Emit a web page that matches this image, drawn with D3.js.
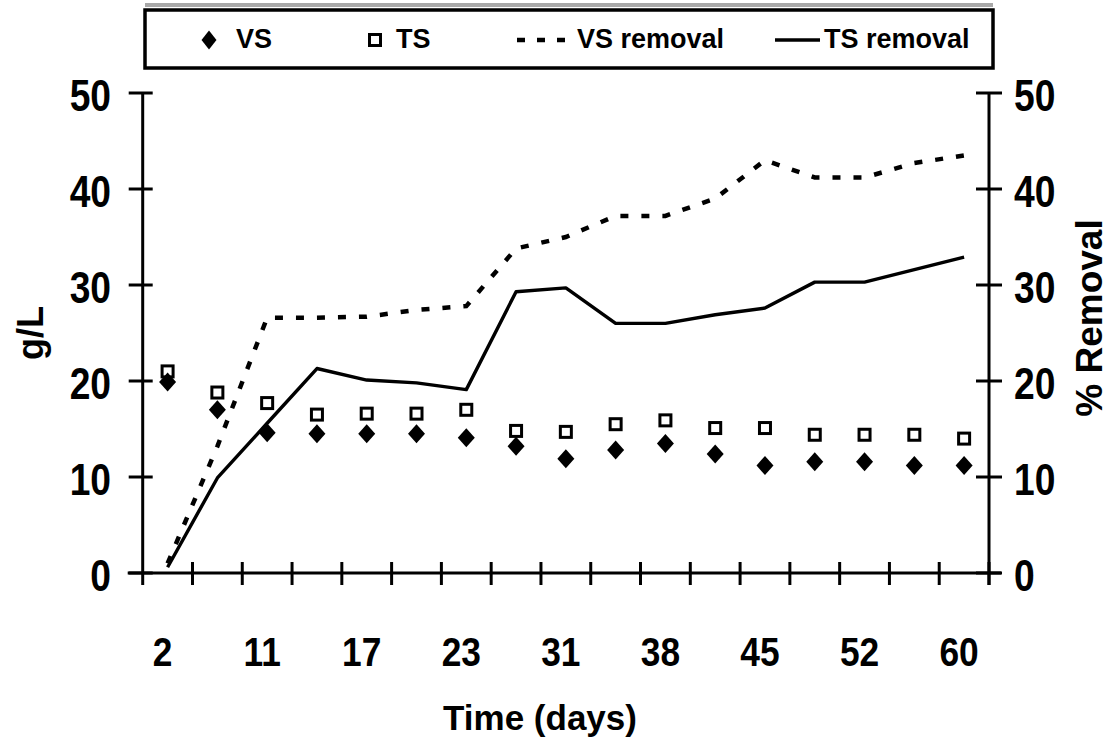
<!DOCTYPE html>
<html>
<head>
<meta charset="utf-8">
<script src="https://cdn.jsdelivr.net/npm/d3@7"></script>
<style>
  html, body { margin: 0; padding: 0; background: #fff; }
  svg text { font-family: "Liberation Sans", Arial, sans-serif; font-weight: bold; fill: #000; }
</style>
</head>
<body>
<svg id="chart" width="1111" height="740"></svg>
<script>
// Sampling days (17 samples, every other one labelled on the axis)
const sampleIndex = d3.range(17);
const tickLabels = ["2", "11", "17", "23", "31", "38", "45", "52", "60"];

// Solids concentration, g/L
const vs = [19.9, 17.0, 14.6, 14.5, 14.5, 14.5, 14.1, 13.2, 11.9, 12.8, 13.5, 12.4, 11.2, 11.6, 11.6, 11.2, 11.2];
const ts = [21.0, 18.8, 17.7, 16.5, 16.6, 16.6, 17.0, 14.8, 14.7, 15.5, 15.9, 15.1, 15.1, 14.4, 14.4, 14.4, 14.0];

// Removal efficiency, %
const vsRemoval = [1.0, 13.2, 26.6, 26.6, 26.7, 27.4, 27.8, 33.8, 35.0, 37.2, 37.2, 39.0, 43.0, 41.2, 41.2, 42.7, 43.5];
const tsRemoval = [0.6, 9.9, 15.6, 21.3, 20.1, 19.8, 19.1, 29.3, 29.7, 26.0, 26.0, 26.9, 27.6, 30.3, 30.3, 31.6, 32.9];

const yTicks = [0, 10, 20, 30, 40, 50];

const svg = d3.select("#chart");
const plotL = 142.7, plotR = 989, plotT = 93, plotB = 573;

const x = d3.scaleBand().domain(sampleIndex).range([plotL, plotR]).padding(0);
const cx = i => x(i) + x.bandwidth() / 2;
const yL = d3.scaleLinear().domain([0, 50]).range([plotB, plotT]);
const yR = d3.scaleLinear().domain([0, 50]).range([plotB, plotT]);

const axisW = 3;

// ---- axes ----
const gAxes = svg.append("g").attr("stroke", "#000").attr("stroke-width", axisW);
// x axis line (extends slightly left of the y axis)
gAxes.append("line").attr("x1", plotL - 15).attr("x2", plotR + 12)
  .attr("y1", yL(0)).attr("y2", yL(0));
// x ticks on band boundaries, crossing the axis
const boundaries = sampleIndex.map(i => x(i)).concat([plotR]);
gAxes.selectAll(".xt").data(boundaries.slice(1)).join("line")
  .attr("x1", d => d).attr("x2", d => d)
  .attr("y1", yL(0) - 11).attr("y2", yL(0) + 12);
// left axis
gAxes.append("line").attr("x1", plotL).attr("x2", plotL)
  .attr("y1", yL(50)).attr("y2", yL(0) + 12);
gAxes.selectAll(".ylt").data(yTicks).join("line")
  .attr("x1", plotL - 14).attr("x2", plotL + 10)
  .attr("y1", d => yL(d)).attr("y2", d => yL(d));
// right axis
gAxes.append("line").attr("x1", plotR).attr("x2", plotR)
  .attr("y1", yR(50)).attr("y2", yR(0) + 12);
gAxes.selectAll(".yrt").data(yTicks).join("line")
  .attr("x1", plotR - 13).attr("x2", plotR + 13)
  .attr("y1", d => yR(d)).attr("y2", d => yR(d));

// tick labels (slightly tall, narrow digits)
svg.append("g").selectAll("text").data(yTicks).join("text")
  .attr("transform", d => `translate(111,${yL(d) + 18}) scale(0.93,1.1)`)
  .attr("text-anchor", "end").attr("font-size", 40)
  .text(d => d);
svg.append("g").selectAll("text").data(yTicks).join("text")
  .attr("transform", d => `translate(1014,${yR(d) + 18}) scale(0.93,1.1)`)
  .attr("text-anchor", "start").attr("font-size", 40)
  .text(d => d);
svg.append("g").selectAll("text").data(tickLabels).join("text")
  .attr("transform", (d, k) => `translate(${cx(k * 2) - 5},666) scale(0.93,1.05)`)
  .attr("text-anchor", "middle").attr("font-size", 38)
  .text(d => d);

// axis titles
svg.append("text").attr("x", 540).attr("y", 730).attr("text-anchor", "middle")
  .attr("font-size", 35).text("Time (days)");
svg.append("text").attr("transform", "translate(43,333) rotate(-90)")
  .attr("text-anchor", "middle").attr("font-size", 36).text("g/L");
svg.append("text").attr("transform", "translate(1102,318) rotate(-90)")
  .attr("text-anchor", "middle").attr("font-size", 37).text("% Removal");

// ---- lines ----
const lineR = d3.line().x((d, i) => cx(i)).y(d => yR(d));
svg.append("path").attr("d", lineR(vsRemoval)).attr("fill", "none")
  .attr("stroke", "#000").attr("stroke-width", 4.5).attr("stroke-dasharray", "8,13");
svg.append("path").attr("d", lineR(tsRemoval)).attr("fill", "none")
  .attr("stroke", "#000").attr("stroke-width", 3.4).attr("stroke-linejoin", "round");

// ---- markers ----
const diamond = (w, h) => `M0,${-h / 2}L${w / 2},0L0,${h / 2}L${-w / 2},0Z`;
svg.append("g").selectAll("rect").data(ts).join("rect")
  .attr("x", (d, i) => cx(i) - 5.5).attr("y", d => yL(d) - 5.5)
  .attr("width", 11).attr("height", 11)
  .attr("fill", "#fff").attr("stroke", "#000").attr("stroke-width", 3);
svg.append("g").selectAll("path").data(vs).join("path")
  .attr("transform", (d, i) => `translate(${cx(i)},${yL(d)})`)
  .attr("d", diamond(17, 19)).attr("fill", "#000");

// ---- legend ----
const lg = svg.append("g");
lg.append("line").attr("x1", 145).attr("x2", 993).attr("y1", 5).attr("y2", 5)
  .attr("stroke", "#a8a8a8").attr("stroke-width", 4);
lg.append("rect").attr("x", 145).attr("y", 10).attr("width", 848).attr("height", 58)
  .attr("fill", "#fff").attr("stroke", "#000").attr("stroke-width", 3.5);
const legendY = 40;
lg.append("path").attr("transform", `translate(209,${legendY})`).attr("d", diamond(15, 19)).attr("fill", "#000");
lg.append("text").attr("x", 236).attr("y", 48).attr("font-size", 27).text("VS");
lg.append("rect").attr("x", 369.5).attr("y", legendY - 5.5).attr("width", 11).attr("height", 11)
  .attr("fill", "#fff").attr("stroke", "#000").attr("stroke-width", 3);
lg.append("text").attr("x", 396).attr("y", 48).attr("font-size", 27).text("TS");
lg.append("line").attr("x1", 517).attr("x2", 566).attr("y1", legendY).attr("y2", legendY)
  .attr("stroke", "#000").attr("stroke-width", 4.5).attr("stroke-dasharray", "8,12");
lg.append("text").attr("x", 577).attr("y", 48).attr("font-size", 27).text("VS removal");
lg.append("line").attr("x1", 775).attr("x2", 820).attr("y1", legendY).attr("y2", legendY)
  .attr("stroke", "#000").attr("stroke-width", 3.5);
lg.append("text").attr("x", 824).attr("y", 48).attr("font-size", 27).text("TS removal");
</script>
</body>
</html>
